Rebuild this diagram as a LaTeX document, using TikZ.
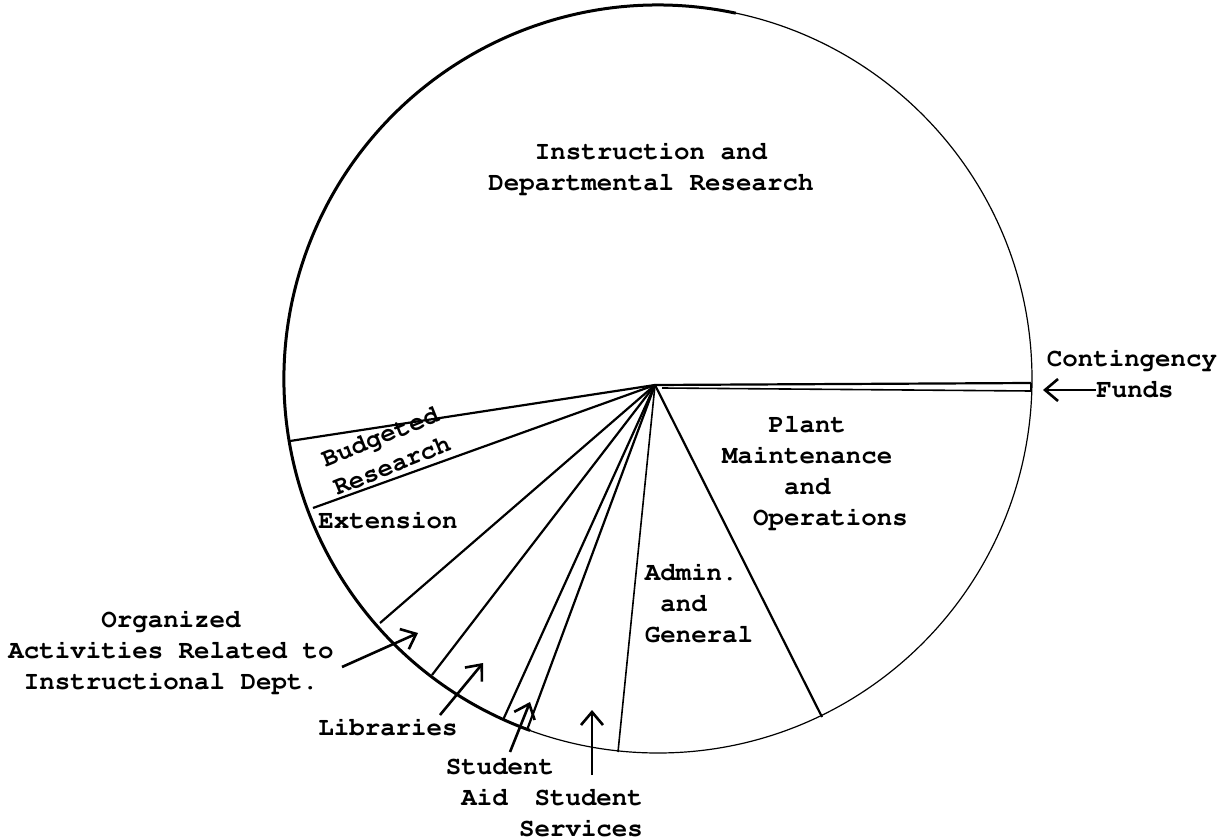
\documentclass[tikz,border=0pt]{standalone}
\usepackage[T1]{fontenc}
\usetikzlibrary{arrows.meta}
\begin{document}
\begin{tikzpicture}[x=0.5pt,y=-0.5pt,
  lbl/.style={font=\fontfamily{pcr}\bfseries\fontsize{12.9}{15.5}\selectfont, inner sep=0pt, align=center},
  lbll/.style={lbl, align=left},
  slice/.style={line width=1.1pt},
  rim/.style={line width=0.6pt},
  rimthick/.style={line width=1.5pt},
  arr/.style={line width=1.3pt, -{Straight Barb[length=6.5pt,width=11pt,line width=1.3pt]}}]
\useasboundingbox (0,0) rectangle (1228,840);
% rim
\coordinate (c) at (658,379);
\draw[rim] (c) circle [radius=374];
\draw[rimthick] (c) ++(110:374) arc[start angle=110,end angle=282,radius=374];
% hub and rim points
\coordinate (hub) at (655,385);
\coordinate (hubb) at (662,388);
\coordinate (p1) at (1031,383);
\coordinate (p1b) at (1031,391);
\coordinate (p2) at (290,441);
\coordinate (p3) at (313,508);
\coordinate (p4) at (380,623);
\coordinate (p5) at (432,675);
\coordinate (p6) at (503,720);
\coordinate (p7) at (527,730);
\coordinate (p8) at (618,752);
\coordinate (p9) at (822,717);
% slices
\draw[slice] (hub) -- (p1);
\draw[line width=0.8pt] (hubb) -- (p1b);
\draw[line width=0.8pt] (p1) -- (p1b);
\foreach \p in {p2,p3,p4,p5,p6,p7,p9} \draw[slice] (hub) -- (\p);
\draw[line width=0.8pt] (hub) -- (p8);
% labels
\node[lbl] (instr) at (651,168) {Instruction and\\Departmental Research};
\node[lbl] (cont) at (1132,360) {Contingency};
\node[lbl] (funds) at (1135,390) {Funds};
\node[lbll] (plant) at (815,473) {\ \ \ Plant\\Maintenance\\\ \ \ \ and\\\ \ Operations};
\node[lbll] (admin) at (699,603) {Admin.\\\ and\\General};
\node[lbl, rotate=22] (budg) at (386,451) {Budgeted\\Research};
\node[lbl] (ext) at (388,520) {Extension};
\node[lbl] (org) at (171,652) {Organized\\Activities Related to\\Instructional Dept.};
\node[lbl] (libr) at (388,727) {Libraries};
\node[lbll] (aid) at (500,782) {Student\\\ Aid};
\node[lbll] (serv) at (581,813) {\ Student\\Services};
% arrows
\coordinate (fundtip) at (1043,390);
\coordinate (orgtail) at (342,667);
\coordinate (orgtip) at (418,633);
\coordinate (librtail) at (440,715);
\coordinate (librtip) at (483,663);
\coordinate (aidtail) at (510,752);
\coordinate (aidtip) at (530,702);
\coordinate (servtail) at (592,775);
\coordinate (servtip) at (592,710);
\draw[arr] (funds.west) -- (fundtip);
\draw[arr] (orgtail) -- (orgtip);
\draw[arr] (librtail) -- (librtip);
\draw[arr] (aidtail) -- (aidtip);
\draw[arr] (servtail) -- (servtip);
\end{tikzpicture}
\end{document}
